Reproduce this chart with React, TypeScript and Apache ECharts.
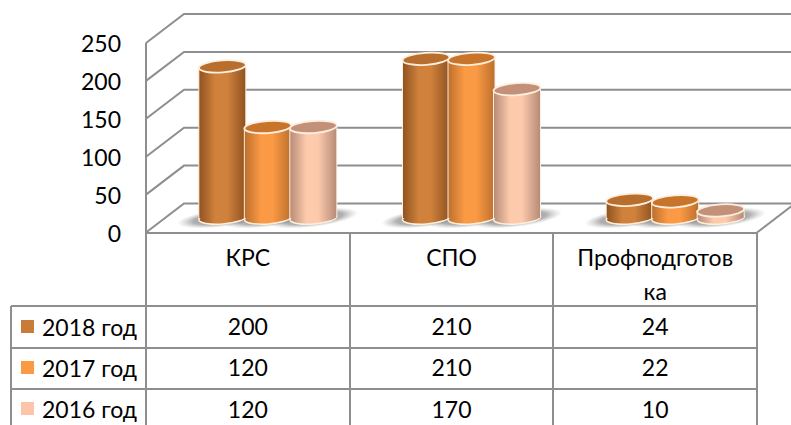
import React, { useEffect, useRef } from "react";
import * as echarts from "echarts";

const categories = ["КРС", "СПО", "Профподготов\nка"];
const years = ["2018 год", "2017 год", "2016 год"];
const values2018 = [200, 210, 24];
const values2017 = [120, 210, 22];
const values2016 = [120, 170, 10];
const yTicks = [0, 50, 100, 150, 200, 250];

const seriesValues = [values2018, values2017, values2016];
const legendColors = ["#c97b3a", "#fb9a45", "#fcc4a8"];
const topColors = ["#b86f2e", "#c8742b", "#c39079"];
const edgeColors = ["#8f5220", "#bb6f2c", "#b58a76"];
const midColors = ["#d0823c", "#fb9a45", "#fdcaac"];

const FONT = "Lato, 'Open Sans', sans-serif";
const FS = 23;
const GRID = { left: 146, top: 43, width: 611, height: 189.5 };
const DEPTH_X = 38;
const DEPTH_Y = 29;
const BAR_SHIFT = 20;
const BAR_STEP = 45.5;
const RX = 23.5;
const RY = 6;
const TILT = 0.07;
const ROW_Y = [326, 367, 409];
const LINE = "#8e8e8e";

function wallsItem(params: any, api: any) {
  const cs = params.coordSys;
  const y = api.coord([0, api.value(1)])[1];
  const x0 = cs.x;
  const x1 = cs.x + cs.width;
  const style = { stroke: LINE, lineWidth: 2, fill: "none" };
  const children: any[] = [
    {
      type: "polyline",
      shape: {
        points: [
          [x0, y],
          [x0 + DEPTH_X, y - DEPTH_Y],
          [x1 + DEPTH_X, y - DEPTH_Y],
        ],
      },
      style,
    },
  ];
  if (api.value(1) === 0) {
    children.push({
      type: "line",
      shape: { x1: x1, y1: y, x2: x1 + DEPTH_X, y2: y - DEPTH_Y },
      style,
    });
  }
  return { type: "group", children };
}

function shadowItem(params: any, api: any) {
  const x = api.coord([api.value(0), 0])[0] + BAR_SHIFT + (api.value(2) - 1) * BAR_STEP;
  const base = api.coord([0, 0])[1] - DEPTH_Y / 2;
  return {
    type: "ellipse",
    x: x,
    y: base,
    rotation: 0.12,
    shape: { cx: 0, cy: 0, rx: RX + 22, ry: 9 },
    style: {
      fill: {
        type: "radial",
        x: 0.5,
        y: 0.5,
        r: 0.5,
        colorStops: [
          { offset: 0, color: "rgba(100,100,100,0.75)" },
          { offset: 0.65, color: "rgba(125,125,125,0.6)" },
          { offset: 1, color: "rgba(170,170,170,0)" },
        ],
      },
    },
  };
}

function barItem(s: number) {
  return (params: any, api: any) => {
    const cx0 = api.coord([api.value(0), 0])[0];
    const x = cx0 + BAR_SHIFT + (s - 1) * BAR_STEP;
    const base = api.coord([0, 0])[1] - DEPTH_Y / 2;
    const top = api.coord([0, api.value(1)])[1] - DEPTH_Y / 2;
    const grad = {
      type: "linear",
      x: 0,
      y: 0,
      x2: 1,
      y2: 0,
      colorStops: [
        { offset: 0, color: edgeColors[s] },
        { offset: 0.35, color: midColors[s] },
        { offset: 0.6, color: midColors[s] },
        { offset: 1, color: edgeColors[s] },
      ],
    };
    const rim = "#fdeedd";
    const children: any[] = [
      {
        type: "ellipse",
        x,
        y: base,
        rotation: TILT,
        shape: { cx: 0, cy: 0, rx: RX, ry: RY },
        style: { fill: grad, stroke: rim, lineWidth: 1.5 },
      },
      {
        type: "rect",
        shape: { x: x - RX, y: top, width: RX * 2, height: base - top },
        style: { fill: grad },
      },
      {
        type: "line",
        shape: { x1: x - RX, y1: top, x2: x - RX, y2: base },
        style: { stroke: rim, lineWidth: 1 },
      },
      {
        type: "line",
        shape: { x1: x + RX, y1: top, x2: x + RX, y2: base },
        style: { stroke: rim, lineWidth: 1 },
      },
      {
        type: "ellipse",
        x,
        y: top,
        rotation: TILT,
        shape: { cx: 0, cy: 0, rx: RX, ry: RY },
        style: { fill: topColors[s], stroke: rim, lineWidth: 1.8 },
      },
      {
        type: "text",
        x: cx0,
        y: ROW_Y[s],
        style: {
          text: String(api.value(1)),
          fontSize: FS,
          fontFamily: FONT,
          fill: "#000",
          align: "center",
          verticalAlign: "middle",
          textAlign: "center",
          textVerticalAlign: "middle",
        },
      },
    ];
    return { type: "group", children };
  };
}

export default function App() {
  const ref = useRef<HTMLDivElement>(null);
  useEffect(() => {
    const chart = echarts.init(ref.current!, null, { renderer: "svg" });
    const frame = { stroke: LINE, lineWidth: 2 };
    const xs = [146, 350, 553, 757];
    const hs = [233, 306, 348, 389];
    const graphicEls: any[] = [
      ...xs.map((x) => ({ type: "line", silent: true, shape: { x1: x, y1: 233, x2: x, y2: 425 }, style: frame })),
      { type: "line", silent: true, shape: { x1: 146, y1: 43, x2: 146, y2: 233 }, style: frame },
      { type: "line", silent: true, shape: { x1: 11, y1: 306, x2: 11, y2: 425 }, style: frame },
      ...hs.map((y, i) => ({
        type: "line",
        silent: true,
        shape: { x1: i === 0 ? 146 : 11, y1: y, x2: 757, y2: y },
        style: frame,
      })),
    ];
    chart.setOption({
      animation: false,
      backgroundColor: "#fff",
      grid: { ...GRID, containLabel: false },
      legend: {
        orient: "vertical",
        left: 16,
        top: 310,
        itemWidth: 13,
        itemHeight: 13,
        itemGap: 18,
        icon: "rect",
        data: years,
        selectedMode: false,
        textStyle: { fontSize: FS, fontFamily: FONT, color: "#000", padding: [0, 0, 0, 3] },
      },
      xAxis: {
        type: "category",
        data: categories,
        axisLine: { show: false },
        axisTick: { show: false },
        axisLabel: {
          interval: 0,
          margin: 7,
          fontSize: FS,
          fontFamily: FONT,
          color: "#000",
          lineHeight: 34,
          verticalAlign: "top",
        },
      },
      yAxis: {
        type: "value",
        min: 0,
        max: 250,
        interval: 50,
        axisLine: { show: false },
        axisTick: { show: false },
        splitLine: { show: false },
        axisLabel: { margin: 25, fontSize: FS, fontFamily: FONT, color: "#000" },
      },
      graphic: graphicEls,
      series: [
        {
          type: "custom",
          name: "walls",
          z: 1,
          renderItem: wallsItem,
          encode: { x: 0, y: 1 },
          data: yTicks.map((t) => [0, t]),
          silent: true,
        },
        {
          type: "custom",
          name: "shadow",
          z: 2,
          renderItem: shadowItem,
          encode: { x: 0, y: 1 },
          data: seriesValues.flatMap((vals, s) => vals.map((v, i) => [i, v, s])),
          silent: true,
        },
        ...years.map((name, s) => ({
          type: "custom",
          name,
          z: 3 + s,
          renderItem: barItem(s),
          encode: { x: 0, y: 1 },
          itemStyle: { color: legendColors[s] },
          data: seriesValues[s].map((v, i) => [i, v]),
          silent: true,
        })),
      ],
    });
    return () => chart.dispose();
  }, []);
  return <div ref={ref} style={{ position: "fixed", left: 0, top: 0, width: 791, height: 425 }} />;
}
